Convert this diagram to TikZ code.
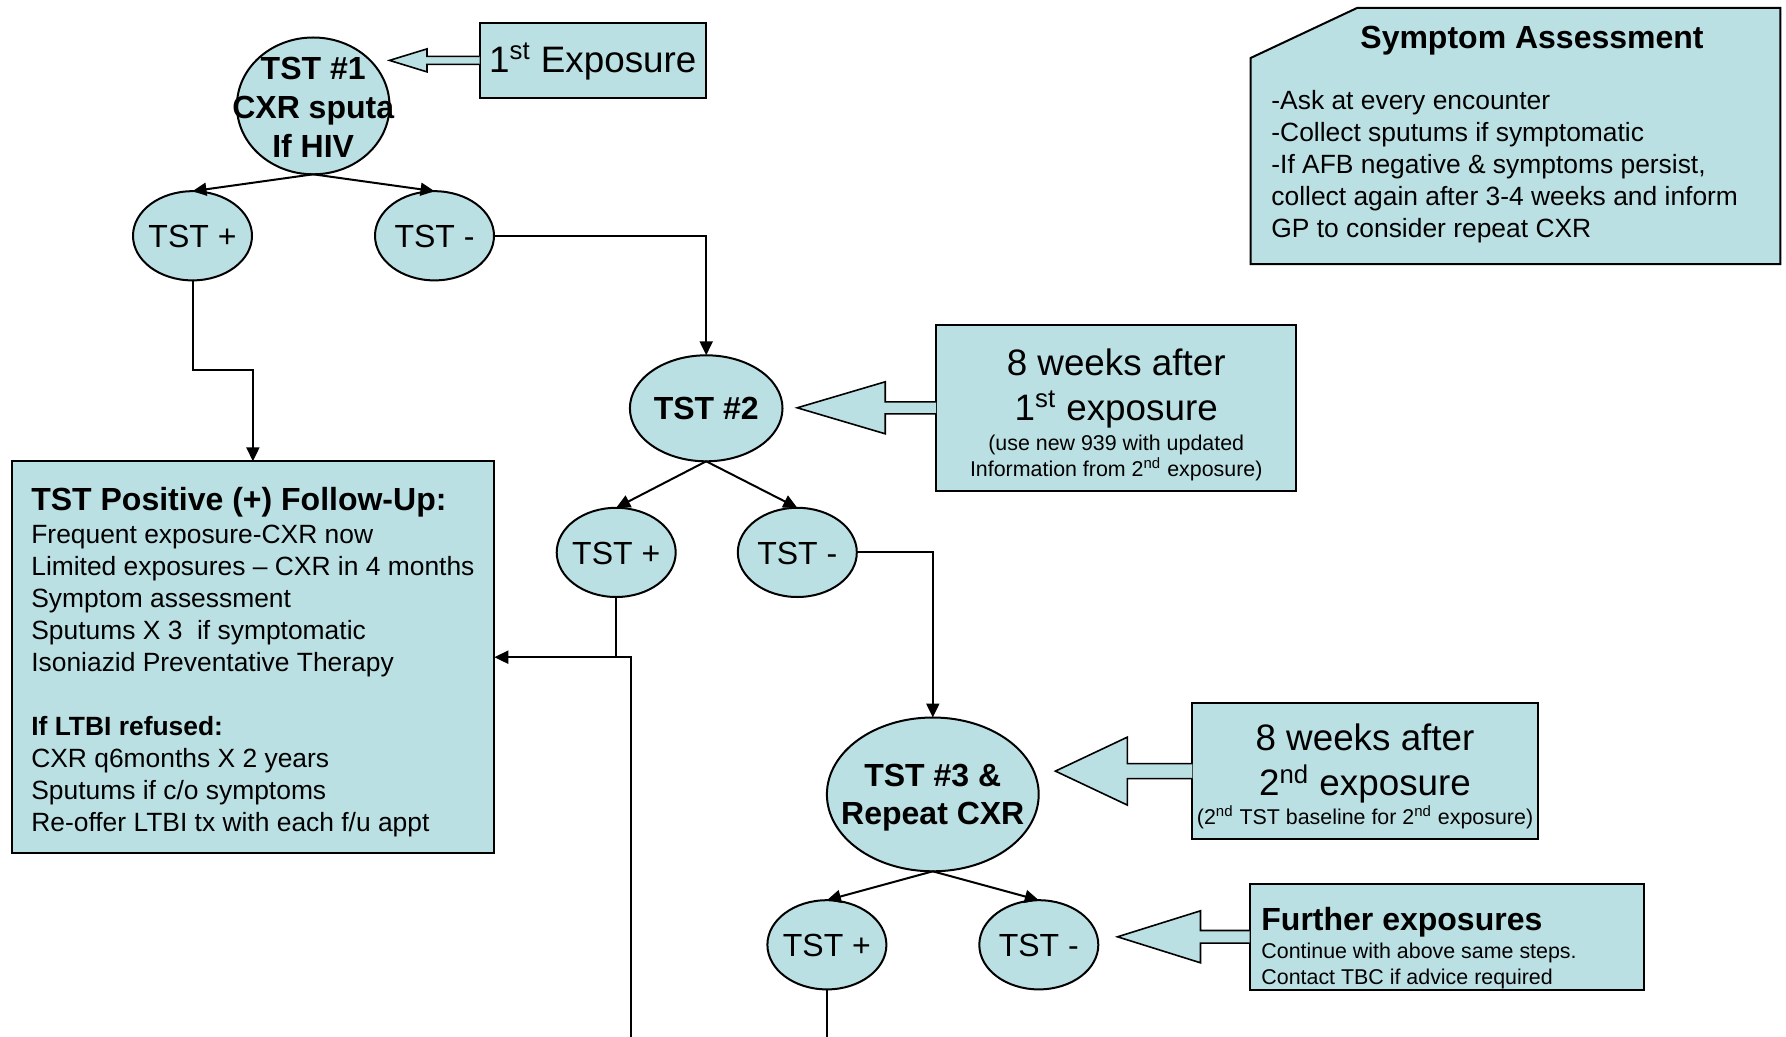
\documentclass[tikz,border=0pt]{standalone}
\usepackage{fontspec}
\setmainfont{Liberation Sans}
\usetikzlibrary{arrows.meta, shapes.geometric, positioning, calc}

\definecolor{tbfill}{RGB}{187,224,227}
\newcommand{\tstfont}{\fontsize{16}{19.5}\selectfont}
\newcommand{\expfont}{\fontsize{18.4}{22.5}\selectfont}
\newcommand{\notefont}{\fontsize{10.7}{13}\selectfont}
\newcommand{\bodyfont}{\fontsize{13.2}{16}\selectfont}
% box node, total length, head length, head half height, shaft half height
\newcommand{\blockarrow}[5]{%
  \draw[blockarr] ($(#1.west)+(0,-#5)$) -- ($(#1.west)+(-#2+#3,-#5)$) -- ($(#1.west)+(-#2+#3,-#4)$)
    -- ($(#1.west)+(-#2,0)$) -- ($(#1.west)+(-#2+#3,#4)$) -- ($(#1.west)+(-#2+#3,#5)$) -- ($(#1.west)+(0,#5)$);}

\begin{document}
\begin{tikzpicture}[
        x=0.5pt, y=-0.5pt,
        >={Triangle[length=7pt,width=6.5pt]},
        tstnode/.style={ellipse, draw, line width=1pt, fill=tbfill, inner sep=0pt, outer sep=0pt},
        tstsmall/.style={tstnode, minimum width=59.5pt, minimum height=44.6pt},
        tstbold/.style={font=\tstfont\bfseries, align=center, inner sep=0pt},
        tstplain/.style={font=\tstfont, inner sep=0pt},
        infobox/.style={draw, line width=1pt, fill=tbfill, inner sep=0pt, outer sep=0pt},
        link/.style={->, line width=1pt},
        plainline/.style={line width=1pt},
        blockarr/.style={draw, line width=0.8pt, fill=tbfill}
    ]
    \useasboundingbox (0,0) rectangle (1786,1037);

    % tests
    \node[tstnode, minimum width=76.3pt, minimum height=68.4pt,
          label={[tstbold, yshift=-0.6pt]center:{TST \#1\\CXR sputa\\If HIV}}] (t1) at (313.2,105.9) {};
    \node[tstsmall, label={[tstplain, yshift=-0.5pt]center:TST +}] (p1) at (192.5,235.8) {};
    \node[tstsmall, label={[tstplain, yshift=-0.5pt]center:TST -}] (m1) at (434.5,235.8) {};
    \node[tstnode, minimum width=76.3pt, minimum height=53pt,
          label={[tstbold]center:TST \#2}] (t2) at (706.2,408.3) {};
    \node[tstsmall, label={[tstplain, yshift=-0.5pt]center:TST +}] (p2) at (616.2,552.4) {};
    \node[tstsmall, label={[tstplain, yshift=-0.5pt]center:TST -}] (m2) at (797.3,552.4) {};
    \node[tstnode, minimum width=105.9pt, minimum height=76.9pt,
          label={[tstbold, yshift=-1.7pt]center:{TST \#3 \&\\[-0.7pt]Repeat CXR}}] (t3) at (932.8,794.4) {};
    \node[tstsmall, label={[tstplain, yshift=-0.5pt]center:TST +}] (p3) at (826.9,944.8) {};
    \node[tstsmall, label={[tstplain, yshift=-0.5pt]center:TST -}] (m3) at (1038.8,944.8) {};

    % boxes
    \node[infobox, minimum width=113.3pt, minimum height=37.6pt, font=\expfont] (ex1) at (592.8,60.4)
        {\rule{0pt}{15.5pt}1\textsuperscript{st} Exposure};
    \node[infobox, minimum width=241.4pt, minimum height=195.9pt, align=left, font=\bodyfont] (fu) at (252.9,657.2)
        {\rule{0pt}{16.3pt}{\tstfont\bfseries TST Positive (+) Follow-Up:}\\[0.6pt]Frequent exposure-CXR now\\Limited exposures -- CXR in 4 months\\
         Symptom assessment\\Sputums X 3~ if symptomatic\\Isoniazid Preventative Therapy\\[16pt]
         \textbf{If LTBI refused:}\\CXR q6months X 2 years\\Sputums if c/o symptoms\\Re-offer LTBI tx with each f/u appt};
    \node[infobox, minimum width=180pt, minimum height=83.2pt, align=center, font=\expfont] (wk1) at (1116.2,407.8)
        {\rule{0pt}{20pt}8 weeks after\\1\textsuperscript{st} exposure\\[-7.5pt]{\notefont (use new 939 with updated}\\[-9.5pt]
         {\notefont Information from 2\textsuperscript{nd} exposure)}};
    \node[infobox, minimum width=172.6pt, minimum height=68.3pt, align=center, font=\expfont] (wk2) at (1365,771.1)
        {\rule{0pt}{19pt}8 weeks after\\2\textsuperscript{nd} exposure\\[-8pt]{\notefont (2\textsuperscript{nd} TST baseline for 2\textsuperscript{nd} exposure)}};
    \node[infobox, minimum width=197pt, minimum height=53pt] (fe) at (1446.5,936.8) {};
    \node[anchor=west, align=left, font=\notefont, inner sep=0pt] (fetxt) at ($(fe.west)+(11.5,11.5)$)
        {{\tstfont\bfseries Further exposures}\\[1.1pt]Continue with above same steps.\\Contact TBC if advice required};

    % symptom assessment
    \draw[infobox] (1250.6,58) -- (1357,8) -- (1780.3,8) -- (1780.3,264.2) -- (1250.6,264.2) -- cycle;
    \node[font=\tstfont\bfseries, inner sep=0pt] (sahead) at (1532,41) {Symptom Assessment};
    \node[anchor=west, align=left, font=\bodyfont, inner sep=0pt] (sabody) at (1271,167)
        {-Ask at every encounter\\-Collect sputums if symptomatic\\-If AFB negative \& symptoms persist,\\
         collect again after 3-4 weeks and inform\\GP to consider repeat CXR};

    % block arrows
    \blockarrow{ex1}{90}{37.5}{11.5}{4}
    \blockarrow{wk1}{139}{88}{26}{6}
    \blockarrow{wk2}{137}{72}{34}{7.5}
    \blockarrow{fe}{132}{83}{26}{6.3}

    % connectors
    \coordinate (d1) at (630.5,1037);
    \coordinate (d2) at (826.9,1037);
    \draw[link] (t1.south) -- (p1.north);
    \draw[link] (t1.south) -- (m1.north);
    \draw[link] (m1.east) -| (t2.north);
    \draw[link] (p1.south) -- ++(0,90) -| (fu.north);
    \draw[link] (t2.south) -- (p2.north);
    \draw[link] (t2.south) -- (m2.north);
    \draw[link] (m2.east) -| (t3.north);
    \draw[plainline] (p2.south) -- (p2.south |- fu.east);
    \draw[link] (d1) |- (fu.east);
    \draw[link] (t3.south) -- (p3.north);
    \draw[link] (t3.south) -- (m3.north);
    \draw[plainline] (p3.south) -- (d2);
\end{tikzpicture}
\end{document}
